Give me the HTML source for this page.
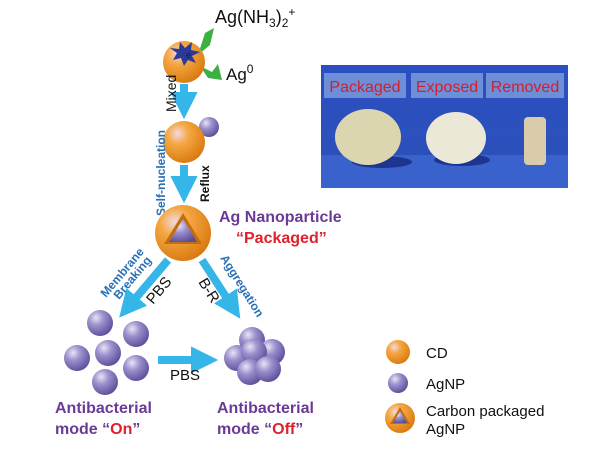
<!DOCTYPE html>
<html><head><meta charset="utf-8"><style>
body{margin:0;background:#fff}
svg text{font-family:"Liberation Sans",sans-serif}
</style></head><body>
<svg width="600" height="449" viewBox="0 0 600 449" xmlns="http://www.w3.org/2000/svg">
<defs>
<radialGradient id="or" cx="0.35" cy="0.3" r="0.75"><stop offset="0" stop-color="#f5d8e0"/><stop offset="0.35" stop-color="#f4a742"/><stop offset="1" stop-color="#d9780e"/></radialGradient>
<radialGradient id="pu" cx="0.35" cy="0.3" r="0.75"><stop offset="0" stop-color="#e8e4f4"/><stop offset="0.4" stop-color="#9c8fcc"/><stop offset="1" stop-color="#5a4c98"/></radialGradient>
<linearGradient id="ph" x1="0" y1="0" x2="0" y2="1"><stop offset="0" stop-color="#2a4fc0"/><stop offset="1" stop-color="#2d50b8"/></linearGradient>
<marker id="ah" markerWidth="3.4" markerHeight="3.4" refX="1.5" refY="1.7" orient="auto" markerUnits="strokeWidth"><path d="M0,0L3.4,1.7L0,3.4z" fill="#35b6e8"/></marker>
</defs>
<rect x="321" y="65" width="247" height="123" fill="url(#ph)"/>
<rect x="321" y="155" width="247" height="33" fill="#3a62cc"/>
<rect x="324" y="73" width="82" height="25" fill="#6f8ed8"/>
<rect x="411" y="73" width="72" height="25" fill="#6f8ed8"/>
<rect x="486" y="73" width="78" height="25" fill="#6f8ed8"/>
<text x="365" y="92" font-size="16" fill="#d02030" text-anchor="middle">Packaged</text>
<text x="447" y="92" font-size="16" fill="#d02030" text-anchor="middle">Exposed</text>
<text x="525" y="92" font-size="16" fill="#d02030" text-anchor="middle">Removed</text>
<ellipse cx="382" cy="162" rx="30" ry="6" fill="#1c3690"/>
<ellipse cx="368" cy="137" rx="33" ry="28" fill="#dcd6b0"/>
<ellipse cx="462" cy="160" rx="28" ry="6" fill="#1c3690"/>
<ellipse cx="456" cy="138" rx="30" ry="26" fill="#ece8d8"/>
<rect x="524" y="117" width="22" height="48" rx="4" fill="#d8ccaa"/>
<line x1="184" y1="84" x2="184" y2="104" stroke="#35b6e8" stroke-width="8" marker-end="url(#ah)"/>
<line x1="184" y1="165" x2="184" y2="188" stroke="#35b6e8" stroke-width="8" marker-end="url(#ah)"/>
<line x1="168" y1="260" x2="129" y2="306" stroke="#35b6e8" stroke-width="8" marker-end="url(#ah)"/>
<line x1="202" y1="260" x2="232" y2="306" stroke="#35b6e8" stroke-width="8" marker-end="url(#ah)"/>
<line x1="158" y1="360" x2="203" y2="360" stroke="#35b6e8" stroke-width="8" marker-end="url(#ah)"/>
<path d="M205,33 L214,28 L210,45 L198,55z" fill="#3cb043"/>
<path d="M200,66 L212,72 L218,64 L222,80 L208,78z" fill="#3cb043"/>
<circle cx="184" cy="62" r="21" fill="url(#or)"/>
<path d="M180,42 L185,48 L192,42 L191,50 L200,52 L192,56 L196,63 L188,60 L184,66 L181,58 L173,60 L177,53 L170,48 L179,49z" fill="#2a3a9c"/>
<text x="186" y="58" font-size="9" fill="#222">e</text>
<text x="215" y="23" font-size="18" fill="#111">Ag(NH<tspan font-size="12" dy="4">3</tspan><tspan dy="-4">)</tspan><tspan font-size="12" dy="4">2</tspan><tspan font-size="12" dy="-11">+</tspan></text>
<text x="226" y="80" font-size="17" fill="#111">Ag<tspan font-size="12" dy="-7">0</tspan></text>
<text transform="translate(176,112) rotate(-90)" font-size="14" fill="#111">Mixed</text>
<circle cx="209" cy="127" r="10" fill="url(#pu)"/>
<circle cx="184" cy="142" r="21" fill="url(#or)"/>
<text transform="translate(165,216) rotate(-90)" font-size="12" font-weight="bold" fill="#2a6fb8">Self-nucleation</text>
<text transform="translate(209,202) rotate(-90)" font-size="12" font-weight="bold" fill="#111">Reflux</text>
<circle cx="183" cy="233" r="28" fill="url(#or)"/>
<path d="M183,213 L202,244 L164,244z" fill="#c46d10"/>
<path d="M183,219 L197,242 L169,242z" fill="url(#pu)"/>
<text x="219" y="222" font-size="16" font-weight="bold" fill="#6b3a96">Ag Nanoparticle</text>
<text x="236" y="243" font-size="16" font-weight="bold" fill="#e0202a">“Packaged”</text>
<text transform="translate(106,298) rotate(-50)" font-size="12" font-weight="bold" fill="#2a6fb8">Membrane</text>
<text transform="translate(119,300) rotate(-50)" font-size="12" font-weight="bold" fill="#2a6fb8">Breaking</text>
<text transform="translate(153,305) rotate(-50)" font-size="15" fill="#111">PBS</text>
<text transform="translate(198,282) rotate(58)" font-size="15" fill="#111">B-R</text>
<text transform="translate(220,258) rotate(58)" font-size="12" font-weight="bold" fill="#2a6fb8">Aggregation</text>
<g fill="url(#pu)">
<circle cx="100" cy="323" r="13"/><circle cx="136" cy="334" r="13"/><circle cx="77" cy="358" r="13"/>
<circle cx="108" cy="353" r="13"/><circle cx="136" cy="368" r="13"/><circle cx="105" cy="382" r="13"/>
<circle cx="252" cy="340" r="13"/><circle cx="272" cy="352" r="13"/><circle cx="237" cy="358" r="13"/>
<circle cx="254" cy="352" r="13"/><circle cx="250" cy="372" r="13"/><circle cx="268" cy="369" r="13"/>
</g>
<text x="170" y="380" font-size="15" fill="#111">PBS</text>
<text x="55" y="413" font-size="16" font-weight="bold" fill="#6b3a96">Antibacterial</text>
<text x="55" y="434" font-size="16" font-weight="bold" fill="#6b3a96">mode “<tspan fill="#e0202a">On</tspan>”</text>
<text x="217" y="413" font-size="16" font-weight="bold" fill="#6b3a96">Antibacterial</text>
<text x="217" y="434" font-size="16" font-weight="bold" fill="#6b3a96">mode “<tspan fill="#e0202a">Off</tspan>”</text>
<circle cx="398" cy="352" r="12" fill="url(#or)"/>
<text x="426" y="358" font-size="15" fill="#111">CD</text>
<circle cx="398" cy="383" r="10" fill="url(#pu)"/>
<text x="426" y="389" font-size="15" fill="#111">AgNP</text>
<circle cx="400" cy="418" r="15" fill="url(#or)"/>
<path d="M400,407 L410,424 L390,424z" fill="#c46d10"/>
<path d="M400,411 L407,423 L393,423z" fill="url(#pu)"/>
<text x="426" y="416" font-size="15" fill="#111">Carbon packaged</text>
<text x="426" y="434" font-size="15" fill="#111">AgNP</text>
</svg>
</body></html>
